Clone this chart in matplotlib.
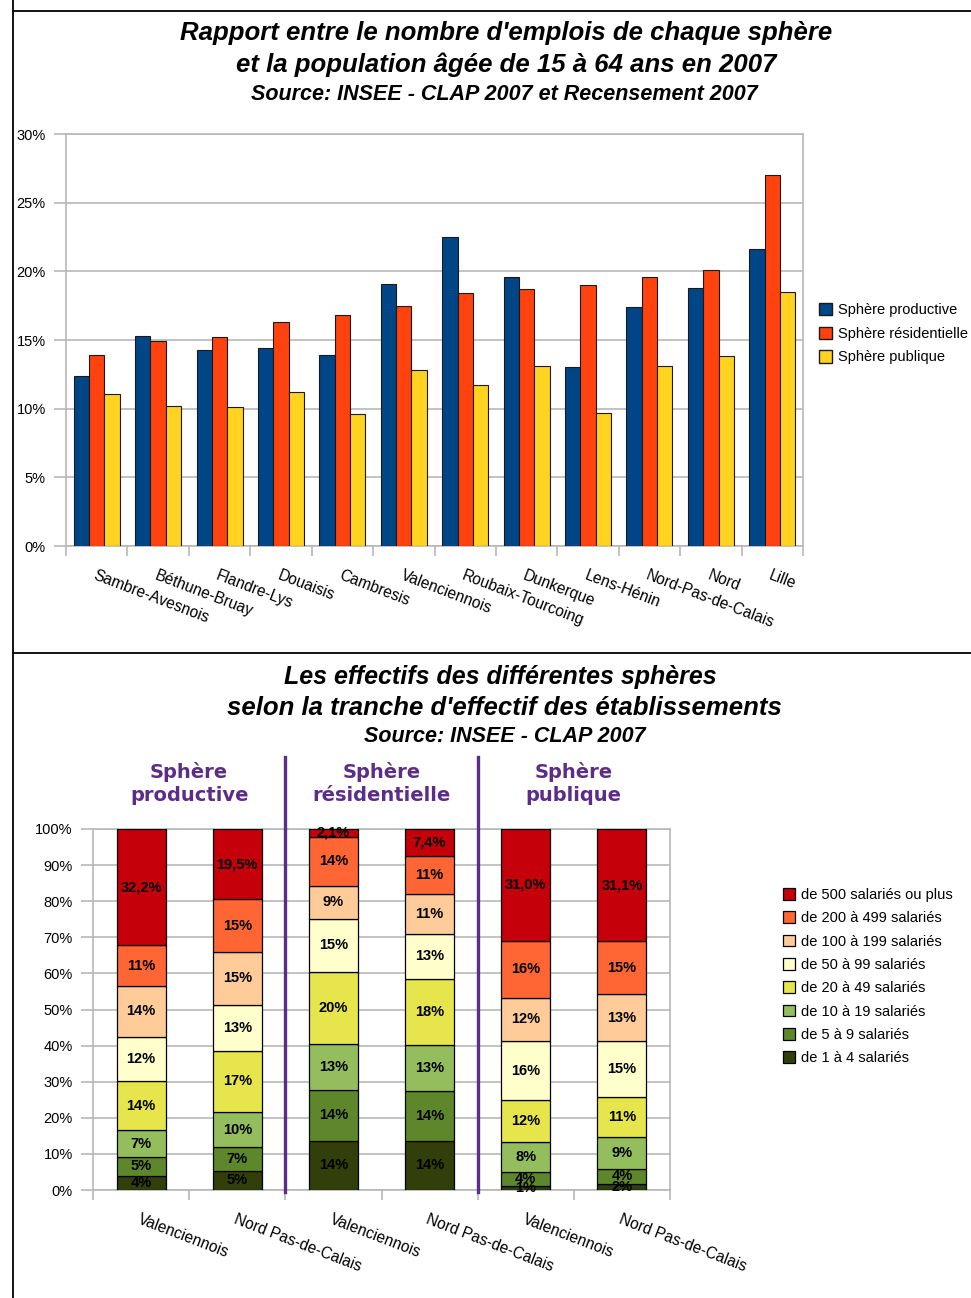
import numpy as np
import matplotlib
matplotlib.use('Agg')
import matplotlib.pyplot as plt
from matplotlib.patches import Patch
from matplotlib.lines import Line2D

plt.rcParams['font.family'] = ['Liberation Sans', 'DejaVu Sans']

# --- Graphique 1 : emplois par sphère / population 15-64 ans (en %)
territoires = ['Sambre-Avesnois', 'Béthune-Bruay', 'Flandre-Lys', 'Douaisis', 'Cambresis',
               'Valenciennois', 'Roubaix-Tourcoing', 'Dunkerque', 'Lens-Hénin',
               'Nord-Pas-de-Calais', 'Nord', 'Lille']
sphere_productive = [12.4, 15.3, 14.3, 14.4, 13.9, 19.1, 22.5, 19.6, 13.0, 17.4, 18.8, 21.6]
sphere_residentielle = [13.9, 14.9, 15.2, 16.3, 16.8, 17.5, 18.4, 18.7, 19.0, 19.6, 20.1, 27.0]
sphere_publique = [11.1, 10.2, 10.1, 11.2, 9.6, 12.8, 11.7, 13.1, 9.7, 13.1, 13.8, 18.5]

# --- Graphique 2 : effectifs par tranche de taille d'établissement (en %)
zones = ['Valenciennois', 'Nord Pas-de-Calais'] * 3
spheres = ['Sphère\nproductive', 'Sphère\nrésidentielle', 'Sphère\npublique']
tranches = ['de 1 à 4 salariés', 'de 5 à 9 salariés', 'de 10 à 19 salariés',
            'de 20 à 49 salariés', 'de 50 à 99 salariés', 'de 100 à 199 salariés',
            'de 200 à 499 salariés', 'de 500 salariés ou plus']
# ordre des barres : prod. Valenciennois, prod. NPdC, rés. Val., rés. NPdC, pub. Val., pub. NPdC
t_1_4 = [4.0, 5.3, 13.7, 13.6, 1.0, 1.8]
t_5_9 = [5.1, 6.6, 14.0, 13.8, 4.0, 4.0]
t_10_19 = [7.4, 9.7, 12.7, 12.7, 8.2, 8.9]
t_20_49 = [13.7, 17.0, 20.1, 18.3, 11.7, 11.1]
t_50_99 = [12.2, 12.7, 14.6, 12.6, 16.4, 15.4]
t_100_199 = [14.1, 14.6, 9.2, 11.0, 11.9, 13.0]
t_200_499 = [11.3, 14.6, 13.6, 10.6, 15.8, 14.7]
t_500_plus = [32.2, 19.5, 2.1, 7.4, 31.0, 31.1]

W, H = 971, 1298
fig = plt.figure(figsize=(W / 100, H / 100), dpi=100)


def fx(px):
    return px / W


def fy(py):
    return 1 - py / H


GRID = '#b8b8b8'
PURPLE = '#5b2d86'
TITLE_FS = 18.5
SRC_FS = 15.5

# cadres noirs
for (x0, y0, x1, y1) in [(13, 0, 13, H), (13, 653, W, 653), (13, 11, W, 11)]:
    fig.add_artist(Line2D([fx(x0), fx(x1)], [fy(y0), fy(y1)], color='black', lw=1.3,
                          transform=fig.transFigure))

# ---------------- graphique 1 ----------------
fig.text(fx(506), fy(33), "Rapport entre le nombre d'emplois de chaque sphère",
         ha='center', va='center', fontsize=TITLE_FS, fontweight='bold', style='italic')
fig.text(fx(506), fy(65), "et la population âgée de 15 à 64 ans en 2007",
         ha='center', va='center', fontsize=TITLE_FS, fontweight='bold', style='italic')
fig.text(fx(504), fy(94), "Source: INSEE - CLAP 2007 et Recensement 2007",
         ha='center', va='center', fontsize=SRC_FS, fontweight='bold', style='italic')

ax1 = fig.add_axes([fx(66), fy(546), fx(803 - 66), (546 - 134) / H])
x = np.arange(len(territoires))
series1 = [(sphere_productive, '#004586', 'Sphère productive'),
           (sphere_residentielle, '#ff420e', 'Sphère résidentielle'),
           (sphere_publique, '#ffd320', 'Sphère publique')]
for k, (vals, col, lab) in enumerate(series1):
    ax1.bar(x + 0.125 + k * 0.25, vals, width=0.25, align='edge', color=col,
            edgecolor='#1a1a1a', linewidth=0.8, label=lab, zorder=3)

ax1.set_xlim(0, len(territoires))
ax1.set_ylim(0, 30)
ax1.set_yticks(range(0, 31, 5))
ax1.set_yticklabels([f'{v}%' for v in range(0, 31, 5)])
ax1.set_xticks(x + 0.5)
ax1.set_xticklabels(territoires, rotation=-21, ha='left', rotation_mode='anchor')
ax1.set_xticks(np.arange(len(territoires) + 1), minor=True)
ax1.tick_params(axis='x', which='major', length=0, pad=16, labelsize=11.2)
ax1.tick_params(axis='x', which='minor', length=7, width=1.2, color=GRID, direction='out')
ax1.tick_params(axis='y', length=8.6, width=1.2, color=GRID, pad=6, labelsize=10.5)
ax1.grid(axis='y', color=GRID, lw=1.2, zorder=0)
for s in ax1.spines.values():
    s.set_color(GRID)
    s.set_linewidth(1.2)

fig.legend(handles=[Patch(facecolor=c, edgecolor='#1a1a1a', label=l) for _, c, l in series1],
           loc='upper left', bbox_to_anchor=(fx(819), fy(303)), frameon=False,
           fontsize=10.5, handlelength=0.9, handleheight=0.9, handletextpad=0.4,
           labelspacing=0.66, borderpad=0, borderaxespad=0)

# ---------------- graphique 2 ----------------
fig.text(fx(500), fy(677), "Les effectifs des différentes sphères",
         ha='center', va='center', fontsize=18, fontweight='bold', style='italic')
fig.text(fx(504), fy(708), "selon la tranche d'effectif des établissements",
         ha='center', va='center', fontsize=TITLE_FS, fontweight='bold', style='italic')
fig.text(fx(505), fy(736), "Source: INSEE - CLAP 2007",
         ha='center', va='center', fontsize=SRC_FS, fontweight='bold', style='italic')

ax2 = fig.add_axes([fx(93), fy(1190), fx(670 - 93), (1190 - 829) / H])
pos = np.arange(len(zones)) + 0.5
stacks = [t_1_4, t_5_9, t_10_19, t_20_49, t_50_99, t_100_199, t_200_499, t_500_plus]
colors2 = ['#333f0a', '#5d872a', '#94bd5e', '#e6e64c', '#ffffcc', '#ffcc99', '#ff6633', '#c5000b']
bottom = np.zeros(len(zones))
for i, (vals, col, lab) in enumerate(zip(stacks, colors2, tranches)):
    vals = np.array(vals)
    ax2.bar(pos, vals, bottom=bottom, width=0.51, color=col, edgecolor='black',
            linewidth=0.9, label=lab, zorder=3)
    for xp, b, v in zip(pos, bottom, vals):
        txt = (f'{v:.1f}'.replace('.', ',') + '%') if i == len(stacks) - 1 else f'{v:.0f}%'
        ax2.text(xp, b + v / 2, txt, ha='center', va='center', fontsize=10.5,
                 fontweight='bold', color='black', zorder=4)
    bottom += vals

ax2.set_xlim(0, len(zones))
ax2.set_ylim(0, 100)
ax2.set_yticks(range(0, 101, 10))
ax2.set_yticklabels([f'{v}%' for v in range(0, 101, 10)])
ax2.set_xticks(pos)
ax2.set_xticklabels(zones, rotation=-21, ha='left', rotation_mode='anchor')
ax2.set_xticks(np.arange(len(zones) + 1), minor=True)
ax2.tick_params(axis='x', which='major', length=0, pad=16, labelsize=11.2)
ax2.tick_params(axis='x', which='minor', length=7, width=1.2, color=GRID, direction='out')
ax2.tick_params(axis='y', length=8.6, width=1.2, color=GRID, pad=6, labelsize=10.5)
ax2.grid(axis='y', color=GRID, lw=1.2, zorder=0)
for s in ax2.spines.values():
    s.set_color(GRID)
    s.set_linewidth(1.2)

# séparateurs violets entre sphères et intitulés
for xs in (2, 4):
    ax2.plot([xs, xs], [-0.5, 120], color=PURPLE, lw=2.4, clip_on=False, zorder=5)
for j, sp in enumerate(spheres):
    ax2.text(2 * j + 1, 112.7, sp, ha='center', va='center', fontsize=14, fontweight='bold',
             color=PURPLE, family='DejaVu Sans', linespacing=1.25, clip_on=False)

h2, l2 = ax2.get_legend_handles_labels()
fig.legend(h2[::-1], l2[::-1], loc='upper left', bbox_to_anchor=(fx(783), fy(888)),
           frameon=False, fontsize=10.5, handlelength=0.85, handleheight=0.85,
           handletextpad=0.4, labelspacing=0.64, borderpad=0, borderaxespad=0)

fig.savefig('out.png', dpi=100)
